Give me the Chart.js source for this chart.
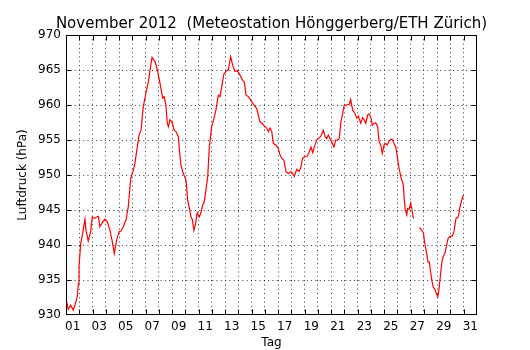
<!DOCTYPE html>
<html><head><meta charset="utf-8">
<script src="https://cdn.jsdelivr.net/npm/chart.js@4/dist/chart.umd.min.js"></script>
<style>html,body{margin:0;padding:0;background:#fff}</style>
</head><body>
<canvas id="c" width="530" height="350"></canvas>
<script>
const titleText = 'November 2012  (Meteostation Hönggerberg/ETH Zürich)';
const xAxisLabel = 'Tag';
const yAxisLabel = 'Luftdruck (hPa)';
const dayTickLabels = ['01','03','05','07','09','11','13','15','17','19','21','23','25','27','29','31'];
const pressureTicks = [930, 935, 940, 945, 950, 955, 960, 965, 970];

// time in days of month (1 = 1 Nov 00:00), pressure in hPa; null marks a data gap
const days = [
 1.05,1.17,1.35,1.55,1.75,1.85,1.93,1.98,2.11,2.26,2.43,2.51,2.68,2.86,2.98,3.13,3.32,3.44,3.56,3.77,
 3.94,4.12,4.32,4.49,4.64,4.82,5.00,5.15,5.32,5.53,5.70,5.88,6.08,6.20,6.51,6.66,6.83,7.03,7.21,7.34,
 7.49,7.71,7.89,8.09,8.29,8.41,8.54,8.64,8.72,8.84,9.00,9.15,9.30,9.47,9.55,9.67,9.80,9.90,10.05,10.18,
 10.35,10.43,10.53,10.65,10.78,10.90,11.05,11.16,11.31,11.43,11.56,11.69,11.81,11.99,12.16,12.31,12.49,12.62,12.74,12.92,
 13.12,13.24,13.42,13.57,13.75,13.92,14.12,14.30,14.45,14.58,14.75,14.93,15.13,15.26,15.38,15.50,15.63,15.84,16.01,16.14,
 16.26,16.39,16.52,16.64,16.84,17.01,17.14,17.27,17.44,17.59,17.77,17.95,18.10,18.22,18.40,18.57,18.70,18.85,19.03,19.20,
 19.35,19.48,19.61,19.78,19.91,20.03,20.21,20.41,20.54,20.66,20.78,20.91,21.09,21.21,21.34,21.49,21.61,21.74,21.87,21.99,
 22.17,22.37,22.47,22.62,22.80,22.93,23.05,23.23,23.38,23.48,23.61,23.76,23.88,24.01,24.10,24.25,24.38,24.51,24.61,24.74,
 24.86,24.99,25.11,25.23,25.36,25.49,25.61,25.74,25.87,25.99,26.12,26.25,26.32,26.44,26.52,26.59,26.70,26.77,26.87,27.00,
 27.10,27.20,27.42,27.65,27.83,27.95,28.08,28.21,28.30,28.40,28.51,28.61,28.70,28.83,28.96,29.04,29.13,29.26,29.38,29.51,
 29.61,29.71,29.83,29.96,30.14,30.26,30.42,30.59,30.72,30.85,30.97
];
const pressure = [
 931.9,930.8,931.4,930.7,931.9,932.6,934.5,936.9,940.2,941.7,943.7,942.1,940.6,941.9,944.0,943.8,944.0,944.1,942.6,943.3,
 943.7,943.3,942.1,940.5,938.8,940.7,941.9,942.0,942.6,943.6,945.5,949.5,950.7,951.7,955.7,956.4,959.8,961.7,963.3,965.0,
 966.8,966.2,965.0,963.1,961.0,961.2,959.8,957.4,956.9,957.9,957.6,956.4,956.2,955.5,953.6,951.4,950.5,950.0,949.3,946.4,
 944.8,944.0,943.6,942.1,943.1,944.6,944.0,944.5,945.7,946.2,947.9,949.8,954.0,956.9,958.1,959.3,961.4,961.2,962.6,964.5,
 964.9,965.0,966.9,965.7,964.8,964.9,964.3,963.6,963.3,961.4,961.2,960.7,960.1,959.8,959.5,958.6,957.6,957.3,956.9,956.7,
 956.2,956.7,956.2,954.5,954.3,953.8,952.9,952.4,952.1,950.5,950.2,950.5,950.2,949.8,950.8,950.5,951.0,952.4,952.6,952.7,
 953.3,954.0,953.2,954.3,955.0,955.2,955.5,956.4,955.5,955.2,955.7,955.2,954.5,954.0,955.0,955.0,955.2,957.6,958.8,960.0,
 960.0,960.1,960.8,959.3,958.8,958.1,958.4,957.4,958.2,957.9,957.4,958.6,958.7,958.1,957.1,957.4,957.4,956.9,954.8,954.3,
 953.1,954.3,954.5,954.3,954.8,955.1,955.1,954.5,954.0,952.6,951.0,949.8,949.3,948.6,946.4,945.0,944.3,945.2,945.1,946.0,
 945.0,943.8,null,942.5,942.1,941.8,940.0,938.8,937.6,937.6,936.0,934.8,934.0,933.6,933.0,932.6,933.6,936.0,937.9,938.6,
 939.0,940.0,941.0,941.2,941.3,941.9,943.8,944.0,945.5,946.4,947.1
];

const points = days.map((d, i) => ({x: d, y: pressure[i]}));
const labelByValue = {};
dayTickLabels.forEach(l => { labelByValue[(parseInt(l, 10) + 0.5).toFixed(1)] = l; });

const FONT = 'DejaVu Sans';
const gridColor = 'rgba(0,0,0,0.8)';

const framePlugin = {
  id: 'frame',
  afterDatasetsDraw(chart) {
    const {ctx, chartArea: a, scales: {x, y}} = chart;
    const L = Math.round(a.left) + 0.5, R = Math.round(a.right) - 0.5;
    const T = Math.round(a.top) + 0.5, B = Math.round(a.bottom) - 0.5;
    ctx.save();
    ctx.strokeStyle = '#000';
    ctx.lineWidth = 1;
    ctx.beginPath();
    for (let d = Math.ceil(x.min) + 1; d < x.max; d++) {
      const px = Math.round(x.getPixelForValue(d)) + 0.5;
      ctx.moveTo(px, B); ctx.lineTo(px, B - 5);
      ctx.moveTo(px, T); ctx.lineTo(px, T + 5);
    }
    pressureTicks.forEach(v => {
      if (v <= y.min || v >= y.max) return;
      const py = Math.round(y.getPixelForValue(v)) + 0.5;
      ctx.moveTo(L, py); ctx.lineTo(L + 5, py);
      ctx.moveTo(R, py); ctx.lineTo(R - 5, py);
    });
    ctx.stroke();
    ctx.strokeRect(L, T, R - L, B - T);
    ctx.restore();
  }
};

new Chart(document.getElementById('c'), {
  type: 'line',
  data: {
    datasets: [{
      data: points,
      borderColor: '#ff0000',
      borderWidth: 1.2,
      pointRadius: 0,
      tension: 0,
      spanGaps: false,
      fill: false,
      xAxisID: 'x',
      yAxisID: 'y'
    }]
  },
  options: {
    responsive: false,
    animation: false,
    devicePixelRatio: 1,
    layout: {padding: {left: 13, right: 0, top: 0, bottom: 0}},
    plugins: {
      legend: {display: false},
      tooltip: {enabled: false},
      title: {
        display: true,
        text: titleText,
        color: '#000',
        font: {family: FONT, size: 15, weight: 'normal', lineHeight: '18px'},
        padding: {top: 15, bottom: 2}
      }
    },
    scales: {
      x: {
        type: 'linear',
        min: 1, max: 32,
        afterBuildTicks: (axis) => {
          const t = [];
          for (let v = axis.min; v <= axis.max + 1e-9; v += 0.5) t.push({value: v});
          axis.ticks = t;
        },
        afterFit: (s) => { s.height = 35; },
        ticks: {
          autoSkip: false, maxRotation: 0, minRotation: 0,
          padding: 5, color: '#000',
          font: {family: FONT, size: 12},
          callback: (v) => labelByValue[Number(v).toFixed(1)] || ''
        },
        grid: {
          drawTicks: false,
          lineWidth: 1,
          color: (c) => (c.tick && Number.isInteger(c.tick.value) && c.tick.value > 1 && c.tick.value < 32) ? gridColor : 'rgba(0,0,0,0)'
        },
        border: {display: false, dash: [1, 3.3]},
        title: {display: true, text: xAxisLabel, color: '#000', font: {family: FONT, size: 12}, padding: {top: 0, bottom: 0}}
      },
      y: {
        type: 'linear',
        position: 'left',
        min: 930, max: 970,
        afterBuildTicks: (axis) => { axis.ticks = pressureTicks.map(v => ({value: v})); },
        afterFit: (s) => { s.width = 53; },
        ticks: {padding: 5, color: '#000', font: {family: FONT, size: 12}},
        grid: {
          drawTicks: false,
          lineWidth: 1,
          color: (c) => (c.tick && c.tick.value > 930 && c.tick.value < 970) ? gridColor : 'rgba(0,0,0,0)'
        },
        border: {display: false, dash: [1, 3.3]},
        title: {display: true, text: yAxisLabel, color: '#000', font: {family: FONT, size: 12}, padding: {top: 3, bottom: 0}}
      },
      yRight: {
        type: 'linear',
        position: 'right',
        min: 930, max: 970,
        afterFit: (s) => { s.width = 53; },
        ticks: {display: false},
        grid: {display: false, drawTicks: false},
        border: {display: false}
      }
    }
  },
  plugins: [framePlugin]
});
</script>
</body></html>
